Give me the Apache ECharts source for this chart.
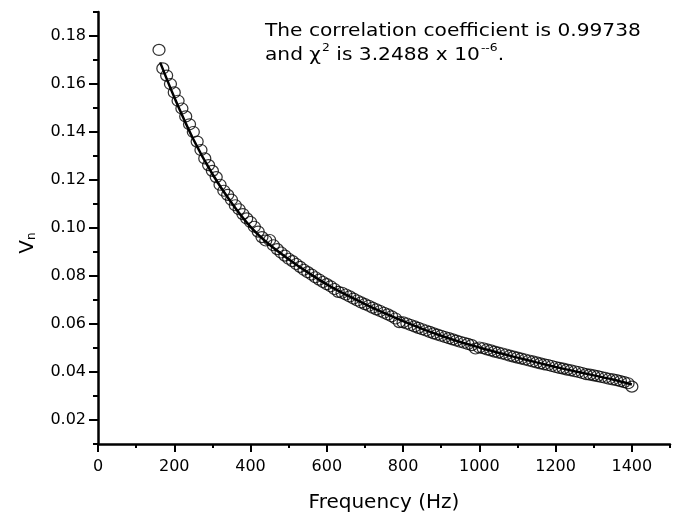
<!DOCTYPE html>
<html>
<head>
<meta charset="utf-8">
<script src="https://cdn.jsdelivr.net/npm/echarts@6/dist/echarts.min.js"></script>
<style>
html,body{margin:0;padding:0;background:#fff;}
#main{width:673px;height:512px;}
</style>
</head>
<body>
<div id="main"></div>
<script>
// Measured points (Frequency in Hz, V_n)
const dataFreq = [160,170,180,190,200,210,220,230,240,250,260,270,280,290,300,310,320,330,340,350,
  360,370,380,390,400,410,420,430,440,450,460,470,480,490,500,510,520,530,540,550,
  560,570,580,590,600,610,620,630,640,650,660,670,680,690,700,710,720,730,740,750,
  760,770,780,790,800,810,820,830,840,850,860,870,880,890,900,910,920,930,940,950,
  960,970,980,990,1000,1010,1020,1030,1040,1050,1060,1070,1080,1090,1100,1110,1120,1130,1140,1150,
  1160,1170,1180,1190,1200,1210,1220,1230,1240,1250,1260,1270,1280,1290,1300,1310,1320,1330,1340,1350,
  1360,1370,1380,1390,1400];
const dataV = [0.1742,0.1665,0.1635,0.1600,0.1565,0.1530,0.1498,0.1465,0.1432,0.1400,0.1360,0.1325,0.1290,0.1262,0.1238,0.1212,0.1180,0.1155,0.1138,0.1118,
  0.1095,0.1078,0.1058,0.1040,0.1025,0.1005,0.0985,0.0962,0.0948,0.0950,0.0928,0.0912,0.0898,0.0885,0.0872,0.0862,0.0850,0.0838,0.0826,0.0816,
  0.0806,0.0795,0.0785,0.0775,0.0766,0.0757,0.0746,0.0734,0.0730,0.0723,0.0715,0.0706,0.0698,0.0690,0.0683,0.0676,0.0668,0.0661,0.0654,0.0647,
  0.0640,0.0632,0.0623,0.0608,0.0607,0.0602,0.0596,0.0590,0.0584,0.0578,0.0573,0.0567,0.0561,0.0556,0.0551,0.0546,0.0541,0.0536,0.0531,0.0526,
  0.0522,0.0517,0.0512,0.0498,0.0502,0.0499,0.0494,0.0490,0.0485,0.0481,0.0477,0.0473,0.0468,0.0464,0.0460,0.0456,0.0452,0.0448,0.0444,0.0440,
  0.0436,0.0432,0.0429,0.0425,0.0421,0.0417,0.0414,0.0410,0.0407,0.0403,0.0400,0.0396,0.0391,0.0389,0.0386,0.0383,0.0379,0.0376,0.0372,0.0369,
  0.0366,0.0362,0.0358,0.0353,0.0339];

// Fitted curve
const fitFreq = [163,200,250,300,350,400,450,500,550,600,650,700,750,800,850,900,950,1000,1050,1100,1150,1200,1250,1300,1350,1400];
const fitV = [0.1690,0.1545,0.1370,0.1225,0.1105,0.1005,0.0930,0.0870,0.0815,0.0765,0.0722,0.0683,0.0646,0.0612,0.0580,0.0551,0.0525,0.0502,0.0480,0.0460,0.0440,0.0421,0.0403,0.0386,0.0369,0.0348];

// Axis ticks
const xTickLabels = [0,200,400,600,800,1000,1200,1400];
const yTickLabels = [0.02,0.04,0.06,0.08,0.10,0.12,0.14,0.16,0.18];

const FONT = 'DejaVu Sans';
const points = dataFreq.map((f, i) => [f, dataV[i]]);
const fit = fitFreq.map((f, i) => [f, fitV[i]]);

const chart = echarts.init(document.getElementById('main'), null, {renderer: 'canvas'});
chart.setOption({
  backgroundColor: '#fff',
  animation: false,
  textStyle: {fontFamily: FONT, color: '#000'},
  grid: {left: 98, right: 3, top: 12, bottom: 68, containLabel: false, outerBoundsMode: 'none'},
  xAxis: [{
    type: 'value', min: 0, max: 1500, position: 'bottom',
    name: 'Frequency (Hz)', nameLocation: 'middle', nameGap: 49,
    nameTextStyle: {fontFamily: FONT, fontSize: 20, color: '#000'},
    axisLine: {show: true, lineStyle: {color: '#000', width: 2.5}},
    axisTick: {show: true, length: 8, lineStyle: {color: '#000', width: 2}, customValues: xTickLabels},
    axisLabel: {fontFamily: FONT, fontSize: 16, color: '#000', margin: 15, customValues: xTickLabels,
      formatter: v => String(v)},
    splitLine: {show: false}
  }, {
    type: 'value', min: 0, max: 1500, interval: 100, position: 'bottom',
    axisLine: {show: false},
    axisTick: {show: true, length: 4, lineStyle: {color: '#000', width: 2}},
    axisLabel: {show: false},
    splitLine: {show: false}
  }],
  yAxis: [{
    type: 'value', min: 0.01, max: 0.19, position: 'left',
    axisLine: {show: true, lineStyle: {color: '#000', width: 2.5}},
    axisTick: {show: true, length: 9, lineStyle: {color: '#000', width: 2}, customValues: yTickLabels},
    axisLabel: {fontFamily: FONT, fontSize: 16, color: '#000', margin: 12, customValues: yTickLabels,
      formatter: v => v.toFixed(2)},
    splitLine: {show: false}
  }, {
    type: 'value', min: 0.01, max: 0.19, interval: 0.01, position: 'left',
    axisLine: {show: false},
    axisTick: {show: true, length: 5, lineStyle: {color: '#000', width: 2}},
    axisLabel: {show: false},
    splitLine: {show: false}
  }],
  graphic: [{
    type: 'text', x: 28, y: 243, rotation: Math.PI / 2,
    style: {
      text: 'V{sub|n}', fontFamily: FONT, fontSize: 20, fill: '#000',
      textAlign: 'center', textVerticalAlign: 'middle',
      rich: {sub: {fontFamily: FONT, fontSize: 12, fill: '#000', verticalAlign: 'bottom', padding: [8, 0, 0, 0]}}
    }
  }, {
    type: 'text', x: 265, y: 19, scaleX: 1.12,
    style: {
      text: 'The correlation coefficient is 0.99738\nand χ{sup|2} is 3.2488 x 10{sup|--6}.',
      fontFamily: FONT, fontSize: 18, lineHeight: 24, fill: '#000',
      textAlign: 'left', textVerticalAlign: 'top',
      rich: {sup: {fontFamily: FONT, fontSize: 11, fill: '#000', verticalAlign: 'top', lineHeight: 11, padding: [0, 0, 0, 1]}}
    }
  }],
  series: [{
    type: 'scatter', xAxisIndex: 0, yAxisIndex: 0, data: points,
    symbol: 'circle', symbolSize: [12, 11],
    itemStyle: {color: 'rgba(0,0,0,0)', borderColor: '#000', borderWidth: 1.2},
    z: 2
  }, {
    type: 'line', xAxisIndex: 0, yAxisIndex: 0, data: fit,
    smooth: 0.3, showSymbol: false, symbol: 'none',
    lineStyle: {color: '#000', width: 2.5},
    z: 3
  }]
});
</script>
</body>
</html>
